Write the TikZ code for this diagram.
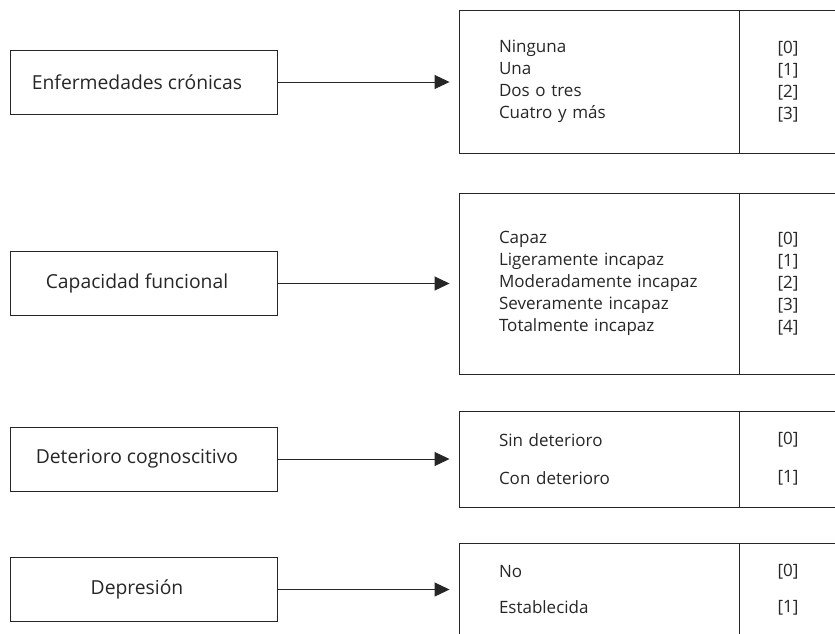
\documentclass[tikz,border=0pt]{standalone}
\usepackage{fontspec}
\setmainfont{Open Sans}
\usetikzlibrary{arrows.meta}

\begin{document}
\begin{tikzpicture}[x=1pt, y=-1pt,
	factor/.style={draw=black!85, line width=0.9pt, minimum width=267pt, minimum height=64pt, inner sep=0pt},
	factortext/.style={text=black!85, font=\fontsize{19.3}{23}\selectfont, xshift=-6.5pt},
	levels/.style={draw=black!85, line width=0.9pt, inner xsep=40pt, inner ysep=0pt, text width=200pt, align=left, text=black!85, font=\fontsize{17}{22}\selectfont},
	scores/.style={draw=black!85, line width=0.9pt, inner sep=0pt, minimum width=98pt, align=center, text=black!85, font=\fontsize{17}{22}\selectfont},
	link/.style={draw=black!85, line width=0.9pt, -{Triangle[length=15pt,width=14pt]}, shorten >=9pt}]
			%%%%% START %%%%%
			
			\useasboundingbox (0,0) rectangle (835,633);
			
			% enfermedades
			\node[factor, label={[factortext]center:Enfermedades crónicas}] (enf) at (143.5,82) {};
			\node[levels, minimum height=143pt] (enfL) at (599,81.5) {Ninguna\\Una\\Dos o tres\\Cuatro y más};
			\node[scores, minimum height=143pt] (enfS) at (788,81.5) {{[0]}\\{[1]}\\{[2]}\\{[3]}};
			\draw[link] (enf.east) -- (enf.east -| enfL.west);
			
			% capacidad
			\node[factor, label={[factortext]center:Capacidad funcional}] (cap) at (143.5,283.5) {};
			\node[levels, minimum height=181pt] (capL) at (599,283.5) {Capaz\\Ligeramente incapaz\\Moderadamente incapaz\\Severamente incapaz\\Totalmente incapaz};
			\node[scores, minimum height=181pt] (capS) at (788,283.5) {{[0]}\\{[1]}\\{[2]}\\{[3]}\\{[4]}};
			\draw[link] (cap.east) -- (cap.east -| capL.west);
			
			% deterioro
			\node[factor, label={[factortext]center:Deterioro cognoscitivo}] (det) at (143.5,459) {};
			\node[levels, minimum height=96pt] (detL) at (599,459) {Sin deterioro\\[16pt]Con deterioro};
			\node[scores, minimum height=96pt] (detS) at (788,459) {{[0]}\\[16pt]{[1]}};
			\draw[link] (det.east) -- (det.east -| detL.west);
			
			% depresion
			\node[factor, label={[factortext]center:Depresión}] (dep) at (143.5,589.5) {};
			\node[levels, minimum height=94pt] (depL) at (599,590) {No\\[14pt]Establecida};
			\node[scores, minimum height=94pt] (depS) at (788,590) {{[0]}\\[14pt]{[1]}};
			\draw[link] (dep.east) -- (dep.east -| depL.west);
			
			%%%%% END %%%%%
\end{tikzpicture}
\end{document}
